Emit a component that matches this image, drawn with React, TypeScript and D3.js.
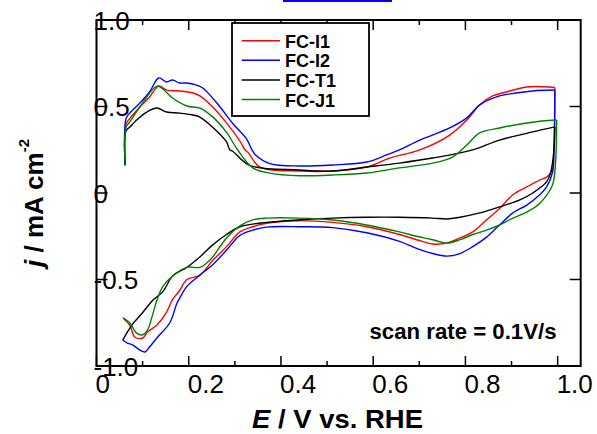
import React from "react";
import * as d3 from "d3";

type P = [number, number];

const seriesNames = ["FC-I1", "FC-I2", "FC-T1", "FC-J1"];
const seriesColors = ["#ff0000", "#0000ff", "#000000", "#008000"];

const xTicksMajor = [0, 0.2, 0.4, 0.6, 0.8, 1.0];
const xTickLabels = ["0", "0.2", "0.4", "0.6", "0.8", "1.0"];
const xTicksMinor = [0.1, 0.3, 0.5, 0.7, 0.9];
const yTicks = [1.0, 0.5, 0, -0.5, -1.0];
const yTickLabels = ["1.0", "0.5", "0", "-0.5", "-1.0"];

// FC-I1 (red): anodic sweep then cathodic sweep
const fcI1: P[] = [
  [0.062, 0.16], [0.064, 0.40], [0.072, 0.43], [0.094, 0.497], [0.115, 0.555], [0.135, 0.618],
  [0.152, 0.595], [0.180, 0.590], [0.209, 0.578], [0.224, 0.561], [0.252, 0.497], [0.282, 0.405],
  [0.311, 0.30], [0.322, 0.25], [0.330, 0.23], [0.354, 0.15], [0.441, 0.127], [0.512, 0.127],
  [0.586, 0.150], [0.636, 0.202], [0.701, 0.249], [0.766, 0.335], [0.803, 0.422], [0.831, 0.509],
  [0.859, 0.561], [0.889, 0.584], [0.933, 0.613], [0.994, 0.610],
  [0.992, 0.25], [0.988, 0.13], [0.976, 0.092], [0.961, 0.075], [0.933, 0.035], [0.903, -0.01],
  [0.874, -0.09], [0.846, -0.155], [0.816, -0.225], [0.788, -0.26], [0.760, -0.29], [0.729, -0.295],
  [0.694, -0.27], [0.657, -0.24], [0.586, -0.195], [0.512, -0.17], [0.441, -0.16], [0.369, -0.175],
  [0.339, -0.195], [0.311, -0.225], [0.282, -0.31], [0.252, -0.39], [0.224, -0.475], [0.196, -0.50],
  [0.180, -0.565], [0.165, -0.615], [0.152, -0.688], [0.131, -0.763], [0.111, -0.803], [0.100, -0.838],
  [0.083, -0.832], [0.072, -0.763], [0.059, -0.728],
];

// FC-I2 (blue)
const fcI2: P[] = [
  [0.062, 0.16], [0.064, 0.43], [0.072, 0.462], [0.094, 0.520], [0.115, 0.584], [0.135, 0.665],
  [0.152, 0.642], [0.165, 0.653], [0.180, 0.636], [0.196, 0.636], [0.209, 0.630], [0.229, 0.61],
  [0.261, 0.52], [0.296, 0.40], [0.326, 0.31], [0.337, 0.25], [0.345, 0.22], [0.376, 0.17],
  [0.441, 0.156], [0.512, 0.162], [0.586, 0.179], [0.629, 0.220], [0.657, 0.249], [0.701, 0.306],
  [0.766, 0.376], [0.803, 0.434], [0.831, 0.509], [0.874, 0.561], [0.911, 0.578], [0.946, 0.590],
  [0.994, 0.595],
  [0.992, 0.25], [0.989, 0.12], [0.976, 0.035], [0.961, -0.01], [0.933, -0.07], [0.903, -0.115],
  [0.874, -0.185], [0.846, -0.255], [0.816, -0.31], [0.788, -0.35], [0.760, -0.365], [0.729, -0.35],
  [0.694, -0.32], [0.657, -0.28], [0.586, -0.23], [0.512, -0.20], [0.441, -0.195], [0.369, -0.197],
  [0.339, -0.215], [0.311, -0.245], [0.282, -0.33], [0.252, -0.415], [0.224, -0.475], [0.196, -0.54],
  [0.180, -0.61], [0.174, -0.64], [0.159, -0.75], [0.131, -0.838], [0.115, -0.89], [0.105, -0.919],
  [0.094, -0.908], [0.079, -0.879], [0.066, -0.867], [0.057, -0.85],
];

// FC-T1 (black)
const fcT1: P[] = [
  [0.062, 0.16], [0.064, 0.36], [0.072, 0.38], [0.087, 0.422], [0.109, 0.468], [0.131, 0.491],
  [0.152, 0.468], [0.180, 0.462], [0.209, 0.451], [0.224, 0.439], [0.252, 0.38], [0.282, 0.295],
  [0.289, 0.25], [0.296, 0.24], [0.332, 0.16], [0.441, 0.133], [0.512, 0.127], [0.586, 0.150],
  [0.657, 0.173], [0.729, 0.202], [0.816, 0.249], [0.874, 0.306], [0.946, 0.353], [0.994, 0.382],
  [0.992, 0.25], [0.985, 0.12], [0.976, 0.064], [0.946, 0.0], [0.918, -0.04], [0.874, -0.08],
  [0.831, -0.115], [0.788, -0.14], [0.760, -0.15], [0.729, -0.145], [0.657, -0.14], [0.586, -0.14],
  [0.512, -0.145], [0.441, -0.155], [0.369, -0.17], [0.311, -0.195], [0.282, -0.24], [0.252, -0.30],
  [0.224, -0.37], [0.196, -0.43], [0.165, -0.48], [0.144, -0.57], [0.122, -0.62], [0.105, -0.675],
  [0.094, -0.71], [0.079, -0.755], [0.068, -0.80], [0.057, -0.85],
];

// FC-J1 (green)
const fcJ1: P[] = [
  [0.062, 0.16], [0.064, 0.38], [0.072, 0.41], [0.094, 0.497], [0.131, 0.618], [0.144, 0.601],
  [0.165, 0.549], [0.196, 0.503], [0.224, 0.491], [0.252, 0.44], [0.282, 0.35], [0.306, 0.25],
  [0.339, 0.145], [0.376, 0.115], [0.441, 0.10], [0.512, 0.104], [0.586, 0.116], [0.657, 0.145],
  [0.729, 0.173], [0.772, 0.208], [0.803, 0.277], [0.831, 0.347], [0.874, 0.376], [0.933, 0.405],
  [0.994, 0.422], [0.998, 0.422],
  [0.996, 0.2], [0.992, 0.08], [0.987, 0.035], [0.961, -0.06], [0.933, -0.11], [0.903, -0.145],
  [0.874, -0.185], [0.846, -0.215], [0.816, -0.24], [0.788, -0.27], [0.760, -0.29], [0.729, -0.27],
  [0.694, -0.25], [0.657, -0.225], [0.586, -0.185], [0.512, -0.156], [0.441, -0.145], [0.369, -0.145],
  [0.339, -0.155], [0.311, -0.19], [0.282, -0.26], [0.252, -0.37], [0.239, -0.405], [0.224, -0.43],
  [0.196, -0.43], [0.165, -0.48], [0.144, -0.54], [0.131, -0.62], [0.122, -0.70], [0.111, -0.79],
  [0.100, -0.82], [0.087, -0.81], [0.072, -0.75], [0.057, -0.72],
];

const seriesData = [fcI1, fcI2, fcT1, fcJ1];

const W = 597;
const H = 434;
const left = 96.5;
const right = 580.7;
const top = 20;
const bottom = 366;

const FONT = "'Liberation Sans', Arial, Helvetica, sans-serif";

function splitAtVertex(d: P[]): P[][] {
  let k = 0;
  for (let i = 1; i < d.length; i++) if (d[i][0] > d[k][0]) k = i;
  return [d.slice(0, k + 1), d.slice(k)];
}

export default function App() {
  const x = d3.scaleLinear().domain([0, 1.05]).range([left, right]);
  const y = d3.scaleLinear().domain([-1, 1]).range([bottom, top]);
  const line = d3
    .line<P>()
    .x((d) => x(d[0]))
    .y((d) => y(d[1]))
    .curve(d3.curveCatmullRom.alpha(0.5));

  const legendX = 232;
  const legendY = 23;
  const legendRows = [40.7, 60.3, 80, 99.5];

  return (
    <svg
      width={W}
      height={H}
      style={{ position: "absolute", left: 0, top: 0, background: "#fff" }}
      fontFamily={FONT}
    >
      <rect x={0} y={0} width={W} height={H} fill="#fff" />
      {/* stray blue underline at top */}
      <line x1={283} x2={392} y1={1} y2={1} stroke="#0000ff" strokeWidth={2} />

      {/* curves */}
      {seriesData.map((d, i) =>
        splitAtVertex(d).map((part, j) => (
          <path
            key={seriesNames[i] + j}
            d={line(part) || ""}
            fill="none"
            stroke={seriesColors[i]}
            strokeWidth={1.4}
            strokeLinejoin="round"
          />
        ))
      )}

      {/* frame */}
      <rect
        x={left}
        y={top}
        width={right - left}
        height={bottom - top}
        fill="none"
        stroke="#000"
        strokeWidth={2}
      />

      {/* x ticks */}
      {xTicksMajor.map((t) => (
        <g key={"xM" + t}>
          <line x1={x(t)} x2={x(t)} y1={bottom} y2={bottom - 10} stroke="#000" strokeWidth={1.5} />
          <line x1={x(t)} x2={x(t)} y1={top} y2={top + 10} stroke="#000" strokeWidth={1.5} />
        </g>
      ))}
      {xTicksMinor.map((t) => (
        <g key={"xm" + t}>
          <line x1={x(t)} x2={x(t)} y1={bottom} y2={bottom - 5} stroke="#000" strokeWidth={1.5} />
          <line x1={x(t)} x2={x(t)} y1={top} y2={top + 5} stroke="#000" strokeWidth={1.5} />
        </g>
      ))}
      {/* y ticks */}
      {yTicks.map((t) => (
        <g key={"y" + t}>
          <line x1={left} x2={left + 11} y1={y(t)} y2={y(t)} stroke="#000" strokeWidth={1.5} />
          <line x1={right - 11} x2={right} y1={y(t)} y2={y(t)} stroke="#000" strokeWidth={1.5} />
        </g>
      ))}

      {/* x tick labels */}
      {xTicksMajor.map((t, i) => (
        <text key={"xl" + t} x={x(t) - 1} y={393} fontSize={26} fill="#000">
          {xTickLabels[i]}
        </text>
      ))}
      {/* y tick labels */}
      {yTicks.map((t, i) => (
        <text key={"yl" + t} x={93.5} y={y(t) + 9.5} fontSize={26} fill="#000">
          {yTickLabels[i]}
        </text>
      ))}

      {/* legend */}
      <rect
        x={legendX}
        y={legendY}
        width={369 - legendX}
        height={116 - legendY}
        fill="#fff"
        stroke="#000"
        strokeWidth={1.8}
      />
      {seriesNames.map((n, i) => (
        <g key={"lg" + n}>
          <line x1={241.7} x2={280} y1={legendRows[i]} y2={legendRows[i]} stroke={seriesColors[i]} strokeWidth={1.4} />
          <text x={285} y={legendRows[i] + 7} fontSize={18} fontWeight="bold" fill="#000">
            {n}
          </text>
        </g>
      ))}

      {/* scan rate */}
      <text x={369.5} y={339} fontSize={22} fontWeight="bold" fill="#000" textLength={187} lengthAdjust="spacingAndGlyphs">
        scan rate = 0.1V/s
      </text>

      {/* x axis title */}
      <text x={252} y={428} fontSize={25} fontWeight="bold" fill="#000" textLength={171} lengthAdjust="spacingAndGlyphs">
        <tspan fontStyle="italic">E</tspan>
        <tspan> / V vs. RHE</tspan>
      </text>

      {/* y axis title */}
      <text transform="translate(43,267) rotate(-90)" fontSize={26} fontWeight="bold" fill="#000">
        <tspan fontStyle="italic">j</tspan>
        <tspan> / mA cm</tspan>
        <tspan fontSize={15} dy={-14}>-2</tspan>
      </text>
    </svg>
  );
}
